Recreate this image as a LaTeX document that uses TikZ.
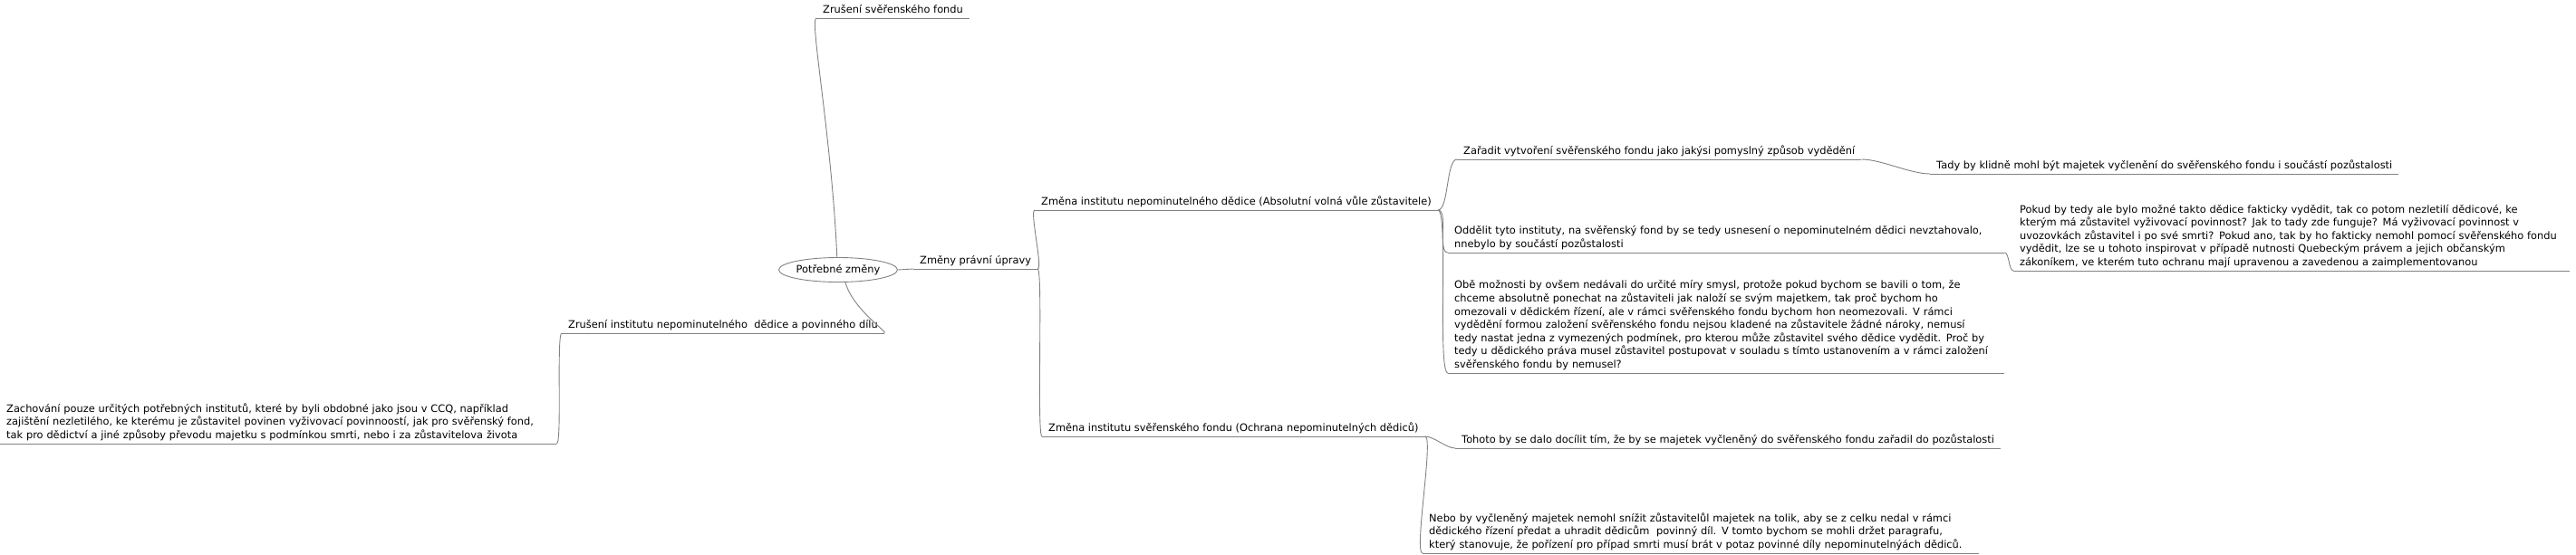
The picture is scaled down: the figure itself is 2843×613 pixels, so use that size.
\documentclass[tikz,border=0pt]{standalone}
\usepackage{fontspec}
\setmainfont{DejaVu Sans}
\usepackage{tikz}
\usetikzlibrary{shapes.geometric}
\definecolor{edgegray}{RGB}{130,130,130}

\tikzset{
	edge/.style={draw=edgegray, line width=0.9pt},
	topic/.style={anchor=south west, inner xsep=7pt, inner ysep=1pt,
		font=\fontsize{11.4}{14.6}\selectfont, execute at end node=\strut,
		append after command={(\tikzlastnode.south west) edge[edge] (\tikzlastnode.south east)}},
	note/.style={topic, align=left, text width=600pt},
	rootnode/.style={ellipse, draw=edgegray, line width=0.9pt, minimum width=118pt,
		minimum height=27pt, inner sep=0pt, font=\fontsize{11.4}{14.6}\selectfont},
}

\begin{document}
\begin{tikzpicture}[x=1pt, y=-1pt]
	\useasboundingbox (0,0) rectangle (2843,613);

	\node[rootnode] (root) at (925,298) {Potřebné změny};

	% left side
	\node[topic] (t1) at (901,20) {Zrušení svěřenského fondu};
	\node[topic] (l1) at (620,368) {Zrušení institutu nepominutelného~ dědice a povinného dílu};
	\node[note] (l11) at (0,490) {Zachování pouze určitých potřebných institutů, které by byli obdobné jako jsou v CCQ, například\\
		zajištění nezletilého, ke kterému je zůstavitel povinen vyživovací povinnoostí, jak pro svěřenský fond,\\
		tak pro dědictví a jiné způsoby převodu majetku s podmínkou smrti, nebo i za zůstavitelova života};

	% right side
	\node[topic] (r1) at (1008,297) {Změny právní úpravy};
	\node[topic] (r2) at (1142,232) {Změna institutu nepominutelného dědice (Absolutní volná vůle zůstavitele)};
	\node[topic] (r3) at (1150,482) {Změna institutu svěřenského fondu (Ochrana nepominutelných dědiců)};

	\node[topic] (r21) at (1608,176) {Zařadit vytvoření svěřenského fondu jako jakýsi pomyslný způsob vydědění};
	\node[topic] (r211) at (2130,192) {Tady by klidně mohl být majetek vyčlenění do svěřenského fondu i součástí pozůstalosti};
	\node[note] (r22) at (1598,279) {Oddělit tyto instituty, na svěřenský fond by se tedy usnesení o nepominutelném dědici nevztahovalo,\\
		nnebylo by součástí pozůstalosti};
	\node[note] (r221) at (2222,299) {Pokud by tedy ale bylo možné takto dědice fakticky vydědit, tak co potom nezletilí dědicové, ke\\
		kterým má zůstavitel vyživovací povinnost? Jak to tady zde funguje? Má vyživovací povinnost v\\
		uvozovkách zůstavitel i po své smrti? Pokud ano, tak by ho fakticky nemohl pomocí svěřenského fondu\\
		vydědit, lze se u tohoto inspirovat v případě nutnosti Quebeckým právem a jejich občanským\\
		zákoníkem, ve kterém tuto ochranu mají upravenou a zavedenou a zaimplementovanou};
	\node[note] (r23) at (1598,412) {Obě možnosti by ovšem nedávali do určité míry smysl, protože pokud bychom se bavili o tom, že\\
		chceme absolutně ponechat na zůstaviteli jak naloží se svým majetkem, tak proč bychom ho\\
		omezovali v dědickém řízení, ale v rámci svěřenského fondu bychom hon neomezovali. V rámci\\
		vydědění formou založení svěřenského fondu nejsou kladené na zůstavitele žádné nároky, nemusí\\
		tedy nastat jedna z vymezených podmínek, pro kterou může zůstavitel svého dědice vydědit. Proč by\\
		tedy u dědického práva musel zůstavitel postupovat v souladu s tímto ustanovením a v rámci založení\\
		svěřenského fondu by nemusel?};

	\node[topic] (r31) at (1606,495) {Tohoto by se dalo docílit tím, že by se majetek vyčleněný do svěřenského fondu zařadil do pozůstalosti};
	\node[note] (r32) at (1570,611) {Nebo by vyčleněný majetek nemohl snížit zůstavitelůl majetek na tolik, aby se z celku nedal v rámci\\
		dědického řízení předat a uhradit dědicům~ povinný díl. V tomto bychom se mohli držet paragrafu,\\
		který stanovuje, že pořízení pro případ smrti musí brát v potaz povinné díly nepominutelnýách dědiců.};

	% connectors
	\draw[edge] (root.95) .. controls +(-6,-134) and +(-8,0) .. (t1.south west);
	\draw[edge] (root.-60) .. controls +(8,30) and +(6,0) .. (l1.south east);
	\draw[edge] (l1.south west) .. controls +(-6,0) and +(6,0) .. (l11.south east);
	\draw[edge] (root.east) -- (r1.south west);
	\foreach \c in {r2,r3}
		\draw[edge] (r1.south east) .. controls +(6,0) and +(-6,0) .. (\c.south west);
	\foreach \c in {r21,r22,r23}
		\draw[edge] (r2.south east) .. controls +(12,0) and +(-12,0) .. (\c.south west);
	\draw[edge] (r21.south east) .. controls +(22,0) and +(-22,0) .. (r211.south west);
	\draw[edge] (r22.south east) .. controls +(5,0) and +(-5,0) .. (r221.south west);
	\foreach \c in {r31,r32}
		\draw[edge] (r3.south east) .. controls +(10,0) and +(-10,0) .. (\c.south west);
\end{tikzpicture}
\end{document}
